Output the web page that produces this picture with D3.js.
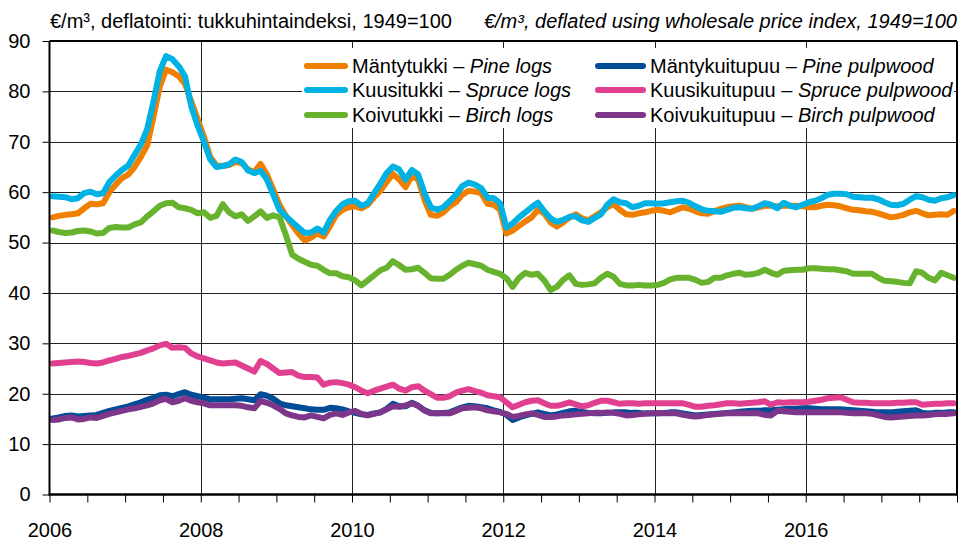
<!DOCTYPE html>
<html><head><meta charset="utf-8">
<script src="https://cdn.jsdelivr.net/npm/d3@7"></script>
<style>
body{margin:0;background:#fff}
svg{display:block;font-family:"Liberation Sans",Arial,sans-serif}
</style>
</head><body>
<svg id="c" width="960" height="540"></svg>
<script>
// ---- data (monthly, Jan 2006 .. Dec 2017) ----
const startYear = 2006;
const xTickYears = [2006, 2008, 2010, 2012, 2014, 2016];
const yTicks = [0, 10, 20, 30, 40, 50, 60, 70, 80, 90];
const seriesFi = ["Mäntytukki", "Kuusitukki", "Koivutukki", "Mäntykuitupuu", "Kuusikuitupuu", "Koivukuitupuu"];
const seriesEn = ["Pine logs", "Spruce logs", "Birch logs", "Pine pulpwood", "Spruce pulpwood", "Birch pulpwood"];
const seriesColors = ["#F07F00", "#00B2E3", "#67B32E", "#004C97", "#E0408F", "#7E368A"];

const pineLogs = [
55.0,55.3,55.5,55.6,55.8,56.8,57.7,57.6,57.8,60.0,61.5,62.8,
63.5,65.0,67.0,69.3,75.0,81.0,84.3,83.8,83.0,81.5,78.0,74.5,
71.0,67.0,65.3,65.2,65.4,66.0,65.8,64.5,64.0,65.6,63.5,60.5,
57.5,55.3,53.5,51.8,50.4,51.0,51.8,51.2,53.2,55.5,56.5,57.0,
57.2,56.8,57.5,59.0,60.3,62.0,63.6,62.5,61.0,63.2,62.5,58.5,
55.5,55.3,56.0,57.2,58.0,59.5,60.3,60.1,59.8,57.7,57.5,56.5,
51.8,52.4,53.3,54.2,55.0,56.5,55.8,54.0,53.2,54.0,55.0,55.6,
54.8,54.4,55.2,56.0,57.0,57.6,56.5,55.6,55.5,55.8,56.0,56.3,
56.5,56.3,56.0,56.5,57.0,56.7,56.2,55.8,55.7,56.2,56.7,57.0,
57.2,57.3,57.0,56.7,57.0,57.3,57.3,57.2,57.3,57.3,57.3,57.2,
57.0,57.0,57.3,57.5,57.4,57.2,56.8,56.5,56.4,56.2,56.1,55.8,
55.4,55.0,55.2,55.5,56.0,56.3,55.8,55.4,55.5,55.6,55.5,56.3];

const spruceLogs = [
59.2,59.1,59.0,58.6,58.8,59.8,60.1,59.6,59.8,62.0,63.3,64.4,
65.3,67.4,69.5,72.5,78.0,84.0,87.0,86.4,85.0,83.0,77.0,73.2,
70.0,66.5,65.0,65.2,65.5,66.5,66.0,64.3,63.8,64.2,62.5,59.5,
56.5,55.2,54.1,53.0,51.9,52.0,52.8,52.0,54.5,56.3,57.6,58.2,
58.3,57.3,57.8,59.8,61.7,63.8,65.1,64.5,62.5,64.4,63.5,59.8,
57.0,56.5,57.0,58.2,59.5,61.2,61.9,61.5,60.8,58.9,58.8,57.8,
53.0,53.8,55.0,56.0,57.0,57.9,56.2,54.8,54.1,54.5,55.1,55.2,
54.4,54.1,54.9,55.6,57.5,58.6,58.0,57.8,57.0,57.3,57.8,57.8,
57.7,57.8,58.0,58.2,58.3,57.9,57.2,56.6,56.3,56.2,56.1,56.5,
56.9,57.0,56.8,56.7,57.2,57.8,57.5,56.8,57.9,57.3,57.0,57.5,
58.0,58.3,58.8,59.5,59.7,59.7,59.6,59.1,59.0,58.9,58.9,58.6,
58.0,57.5,57.4,57.7,58.5,59.2,59.0,58.5,58.3,58.8,59.0,59.4];

const birchLogs = [
52.4,52.1,51.9,52.0,52.3,52.4,52.2,51.8,51.9,52.9,53.1,53.0,
53.0,53.6,54.0,55.2,56.2,57.3,57.8,57.9,57.0,56.8,56.5,55.8,
56.0,54.9,55.3,57.6,56.0,55.2,55.6,54.3,55.2,56.2,54.9,55.4,
55.0,51.5,47.6,46.8,46.2,45.6,45.4,44.6,43.9,43.9,43.3,43.1,
42.5,41.5,42.5,43.5,44.5,45.0,46.3,45.5,44.6,44.7,45.0,44.0,
42.9,42.8,42.8,43.6,44.6,45.4,46.0,45.7,45.4,44.6,44.2,43.8,
42.9,41.2,43.0,44.0,43.6,43.8,42.5,40.6,41.2,42.6,43.5,41.8,
41.6,41.7,41.9,43.0,43.8,43.2,41.8,41.5,41.5,41.6,41.5,41.5,
41.6,42.0,42.7,43.0,43.0,43.0,42.6,42.0,42.2,43.0,43.0,43.5,
43.8,44.0,43.6,43.7,44.0,44.6,44.0,43.6,44.4,44.5,44.6,44.6,
44.9,44.9,44.8,44.7,44.7,44.5,44.3,43.8,43.8,43.8,43.8,43.0,
42.4,42.3,42.2,42.0,41.9,44.3,44.0,43.0,42.5,44.0,43.5,43.0];

const pinePulp = [
15.1,15.3,15.6,15.7,15.5,15.6,15.7,15.8,16.2,16.6,16.9,17.2,
17.5,17.9,18.3,18.8,19.2,19.7,19.8,19.5,19.9,20.3,19.8,19.5,
19.2,18.9,18.9,18.9,18.9,19.0,19.1,18.9,18.7,19.9,19.6,19.0,
18.1,17.7,17.5,17.3,17.1,16.9,16.8,16.8,17.2,17.1,16.9,16.5,
16.2,15.9,15.8,16.1,16.3,17.0,18.0,17.5,17.5,18.2,17.6,16.7,
16.2,16.1,16.2,16.3,16.8,17.3,17.6,17.5,17.3,17.1,16.7,16.4,
15.8,14.8,15.3,15.7,16.0,16.3,16.0,15.7,15.9,16.2,16.5,16.6,
16.4,16.2,16.1,16.1,16.2,16.3,16.3,16.3,16.2,16.2,16.1,16.1,
16.1,16.2,16.3,16.3,16.1,15.9,15.7,15.8,15.9,16.0,16.1,16.2,
16.3,16.4,16.5,16.6,16.6,16.7,16.7,16.8,16.9,17.0,17.0,17.1,
17.1,17.0,16.9,16.9,16.9,16.9,16.8,16.7,16.6,16.5,16.4,16.3,
16.3,16.3,16.4,16.5,16.6,16.7,16.2,16.1,16.2,16.2,16.3,16.3];

const sprucePulp = [
26.0,26.1,26.2,26.3,26.4,26.3,26.1,26.0,26.2,26.6,26.9,27.3,
27.5,27.8,28.1,28.6,29.0,29.6,29.9,29.1,29.2,29.1,28.0,27.4,
27.0,26.6,26.2,26.0,26.1,26.2,25.6,25.0,24.4,26.5,25.9,25.0,
24.1,24.2,24.3,23.6,23.3,23.3,23.2,21.8,22.2,22.3,22.1,21.8,
21.3,20.6,20.1,20.6,21.0,21.4,21.8,21.0,20.6,21.3,21.5,20.6,
19.9,19.2,19.2,19.5,20.2,20.6,20.9,20.5,20.2,19.7,19.5,19.3,
18.3,17.3,17.8,18.3,18.6,18.7,18.1,17.6,17.6,17.9,18.3,17.9,
17.5,17.7,18.2,18.6,18.6,18.3,18.0,18.1,18.1,18.0,18.1,18.1,
18.1,18.1,18.1,18.1,18.1,17.8,17.4,17.4,17.6,17.7,17.9,18.1,
18.1,18.0,18.1,18.2,18.3,18.5,17.8,18.3,18.2,18.3,18.3,18.3,
18.4,18.6,18.8,19.1,19.2,19.3,18.8,18.3,18.2,18.2,18.1,18.1,
18.1,18.1,18.2,18.2,18.3,18.3,17.8,17.9,18.0,18.0,18.1,18.1];

const birchPulp = [
14.8,14.9,15.2,15.3,14.9,15.0,15.3,15.2,15.6,16.0,16.3,16.6,
16.9,17.1,17.4,17.7,18.1,18.7,19.0,18.3,18.6,19.1,18.6,18.3,
18.1,17.7,17.7,17.7,17.7,17.7,17.6,17.3,17.1,18.6,18.2,17.7,
17.0,16.1,15.7,15.4,15.3,15.7,15.4,15.1,15.8,16.1,15.8,16.3,
16.6,16.0,15.7,16.0,16.3,16.9,17.5,17.4,17.7,18.1,17.6,16.7,
16.1,16.1,16.1,16.1,16.6,17.1,17.2,17.3,17.1,16.7,16.5,16.3,
16.0,15.4,15.6,15.9,16.1,15.8,15.4,15.4,15.5,15.7,15.8,15.9,
16.0,16.1,16.2,16.2,16.3,16.2,16.0,15.7,15.8,15.9,16.0,16.1,
16.1,16.1,16.1,16.1,15.8,15.6,15.5,15.6,15.8,15.9,16.0,16.1,
16.1,16.1,16.1,16.1,16.1,15.8,15.7,16.6,16.5,16.4,16.3,16.3,
16.3,16.3,16.3,16.3,16.3,16.3,16.2,16.1,16.1,16.1,16.0,15.7,
15.4,15.3,15.4,15.5,15.6,15.7,15.7,15.8,15.9,16.0,16.0,16.1];

const titleFi = "€/m³, deflatointi: tukkuhintaindeksi, 1949=100";
const titleEn = "€/m³, deflated using wholesale price index, 1949=100";

// ---- drawing ----
const allSeries = [pineLogs, spruceLogs, birchLogs, pinePulp, sprucePulp, birchPulp];
const svg = d3.select("#c");
const pLeft = 49.5, pRight = 957, pTop = 41, pBottom = 494.5;
const x = d3.scaleLinear().domain([startYear, startYear + 12]).range([pLeft, pRight]);
const y = d3.scaleLinear().domain([0, 90]).range([pBottom, pTop]);

// gridlines
const grid = svg.append("g");
grid.selectAll("line.h").data(yTicks.filter(v => v > 0 && v < 90)).join("line")
  .attr("class", "h")
  .attr("x1", pLeft).attr("x2", pRight)
  .attr("y1", d => Math.round(y(d)) + 0.5).attr("y2", d => Math.round(y(d)) + 0.5)
  .attr("stroke", "#222").attr("stroke-width", 1);
grid.selectAll("line.v").data(xTickYears.filter(v => v > startYear)).join("line")
  .attr("class", "v")
  .attr("x1", d => Math.round(x(d)) + 0.5).attr("x2", d => Math.round(x(d)) + 0.5)
  .attr("y1", pTop).attr("y2", pBottom)
  .attr("stroke", "#222").attr("stroke-width", 1);

// lines
const line = d3.line()
  .x((d, i) => x(startYear + (i + 0.5) / 12))
  .y(d => y(d));
svg.append("g").selectAll("path").data(allSeries).join("path")
  .attr("d", d => line(d))
  .attr("fill", "none")
  .attr("stroke", (d, i) => seriesColors[i])
  .attr("stroke-width", 6)
  .attr("stroke-linejoin", "round")
  .attr("stroke-linecap", "round");

// legend
svg.append("rect").attr("x", 302).attr("y", 48).attr("width", 652).attr("height", 80).attr("fill", "#fff");
const legCols = [{lx1: 307, lx2: 345, tx: 352}, {lx1: 598, lx2: 643, tx: 650}];
const legRows = [66, 90, 115];
const leg = svg.append("g").selectAll("g").data(seriesFi).join("g")
  .attr("transform", (d, i) => `translate(0,${legRows[i % 3]})`);
leg.append("line")
  .attr("x1", (d, i) => legCols[Math.floor(i / 3)].lx1)
  .attr("x2", (d, i) => legCols[Math.floor(i / 3)].lx2)
  .attr("stroke", (d, i) => seriesColors[i]).attr("stroke-width", 6).attr("stroke-linecap", "round");
const lt = leg.append("text")
  .attr("x", (d, i) => legCols[Math.floor(i / 3)].tx)
  .attr("y", 7).attr("font-size", 20).attr("fill", "#000");
lt.append("tspan").text(d => d + " – ");
lt.append("tspan").attr("font-style", "italic").text((d, i) => seriesEn[i]);

// axes
const yAxis = svg.append("g").attr("transform", `translate(${pLeft},0)`)
  .call(d3.axisLeft(y).tickValues(yTicks).tickSize(7).tickPadding(12));
yAxis.select(".domain").remove();
yAxis.selectAll("text").attr("font-size", 20).attr("font-family", "Liberation Sans, Arial, sans-serif").attr("fill", "#000");
yAxis.selectAll("line").attr("stroke", "#000");

const halfYears = d3.range(0, 25).map(k => startYear + k / 2);
const xAxis = svg.append("g").attr("transform", `translate(0,${pBottom})`)
  .call(d3.axisBottom(x).tickValues(halfYears).tickSize(8).tickPadding(20)
    .tickFormat(d => xTickYears.includes(d) ? String(d) : ""));
xAxis.select(".domain").remove();
xAxis.selectAll("text").attr("font-size", 20).attr("font-family", "Liberation Sans, Arial, sans-serif").attr("fill", "#000");
xAxis.selectAll("line").attr("stroke", "#000");

// frame
svg.append("line").attr("x1", pLeft).attr("x2", pRight).attr("y1", pTop).attr("y2", pTop).attr("stroke", "#000").attr("stroke-width", 2);
svg.append("line").attr("x1", pRight).attr("x2", pRight).attr("y1", pTop).attr("y2", pBottom).attr("stroke", "#000").attr("stroke-width", 2);
svg.append("line").attr("x1", pLeft).attr("x2", pLeft).attr("y1", pTop).attr("y2", pBottom).attr("stroke", "#000").attr("stroke-width", 2);
svg.append("line").attr("x1", pLeft - 1).attr("x2", pRight + 1).attr("y1", pBottom).attr("y2", pBottom).attr("stroke", "#000").attr("stroke-width", 2.5);

// titles
svg.append("text").attr("x", 50).attr("y", 28).attr("font-size", 20).attr("fill", "#000").text(titleFi);
svg.append("text").attr("x", 957).attr("y", 28).attr("font-size", 20).attr("font-style", "italic")
  .attr("text-anchor", "end").attr("fill", "#000").text(titleEn);
</script>
</body></html>
